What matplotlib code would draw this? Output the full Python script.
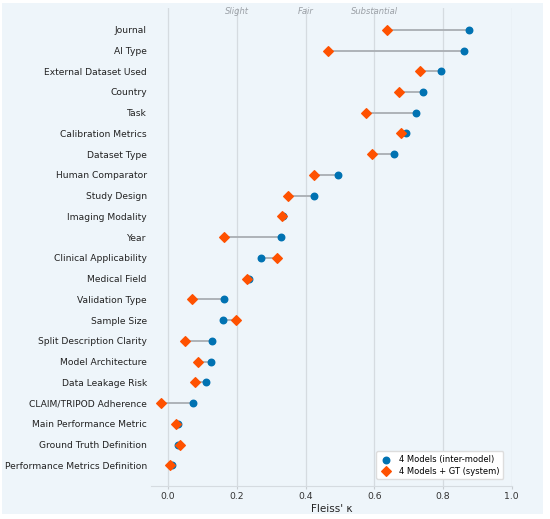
import numpy as np
import matplotlib.pyplot as plt
from matplotlib.patches import Rectangle

fields = ["Journal", "AI Type", "External Dataset Used", "Country", "Task",
          "Calibration Metrics", "Dataset Type", "Human Comparator", "Study Design",
          "Imaging Modality", "Year", "Clinical Applicability", "Medical Field",
          "Validation Type", "Sample Size", "Split Description Clarity",
          "Model Architecture", "Data Leakage Risk", "CLAIM/TRIPOD Adherence",
          "Main Performance Metric", "Ground Truth Definition",
          "Performance Metrics Definition"]
kappa_models = [0.876, 0.862, 0.795, 0.742, 0.720, 0.692, 0.658, 0.495, 0.424,
                0.333, 0.329, 0.271, 0.235, 0.164, 0.161, 0.128, 0.126, 0.109,
                0.071, 0.029, 0.028, 0.010]
kappa_system = [0.637, 0.466, 0.734, 0.673, 0.576, 0.678, 0.592, 0.425, 0.350,
                0.332, 0.162, 0.316, 0.230, 0.068, 0.197, 0.048, 0.088, 0.077,
                -0.022, 0.022, 0.035, 0.005]
bands = ["Slight", "Fair", "Substantial"]
band_x = [0.2, 0.4, 0.6]

bg = '#eef5fa'
blue = '#0072B2'
orange = '#FF5100'

fig = plt.figure(figsize=(5.5, 5.19), dpi=100, facecolor='white')
fig.patches.append(Rectangle((2 / 550, 5 / 519), 541 / 550, 511 / 519,
                             transform=fig.transFigure, facecolor=bg,
                             edgecolor='none', zorder=-10))
ax = fig.add_axes([0.2745, 0.0636, 0.6559, 0.921])
ax.set_facecolor(bg)

y = np.arange(len(fields))
ax.hlines(y, kappa_models, kappa_system, color='#a9aeb3', lw=1.3, zorder=2)
ax.scatter(kappa_models, y, s=22, color=blue, zorder=3,
           label='4 Models (inter-model)')
ax.scatter(kappa_system, y, s=24, marker='D', color=orange, zorder=4,
           label='4 Models + GT (system)')

for lab, xv in zip(bands, band_x):
    ax.text(xv, 0.993, lab, transform=ax.get_xaxis_transform(), ha='center',
            va='center', fontsize=6, style='italic', color='#9a9fa5')

ax.set_xlim(-0.05, 1.0)
ax.set_ylim(22.0, -1.05)
ax.set_yticks(y)
ax.set_yticklabels(fields)
ax.set_xticks([0.0, 0.2, 0.4, 0.6, 0.8, 1.0])
ax.grid(axis='x', color='#d5dbe0', lw=0.9, zorder=0)
ax.set_axisbelow(True)
for s in ['top', 'right', 'left']:
    ax.spines[s].set_visible(False)
ax.spines['bottom'].set_color('#d5dbe0')
ax.tick_params(axis='y', length=0, labelsize=6.6, colors='#222222', pad=3)
ax.tick_params(axis='x', length=2.5, color='#c8cdd2', labelsize=6.7,
               colors='#333333', pad=2)
ax.set_xlabel("Fleiss' κ", fontsize=7.5, color='#222222', labelpad=2)
ax.legend(loc='lower right', fontsize=6.0, frameon=True, framealpha=1,
          edgecolor='#dddddd', facecolor='white', borderpad=0.4,
          labelspacing=0.35, handletextpad=0.8, handlelength=1.6,
          bbox_to_anchor=(0.988, 0.006))

fig.savefig('out.png', dpi=100, facecolor=fig.get_facecolor())
